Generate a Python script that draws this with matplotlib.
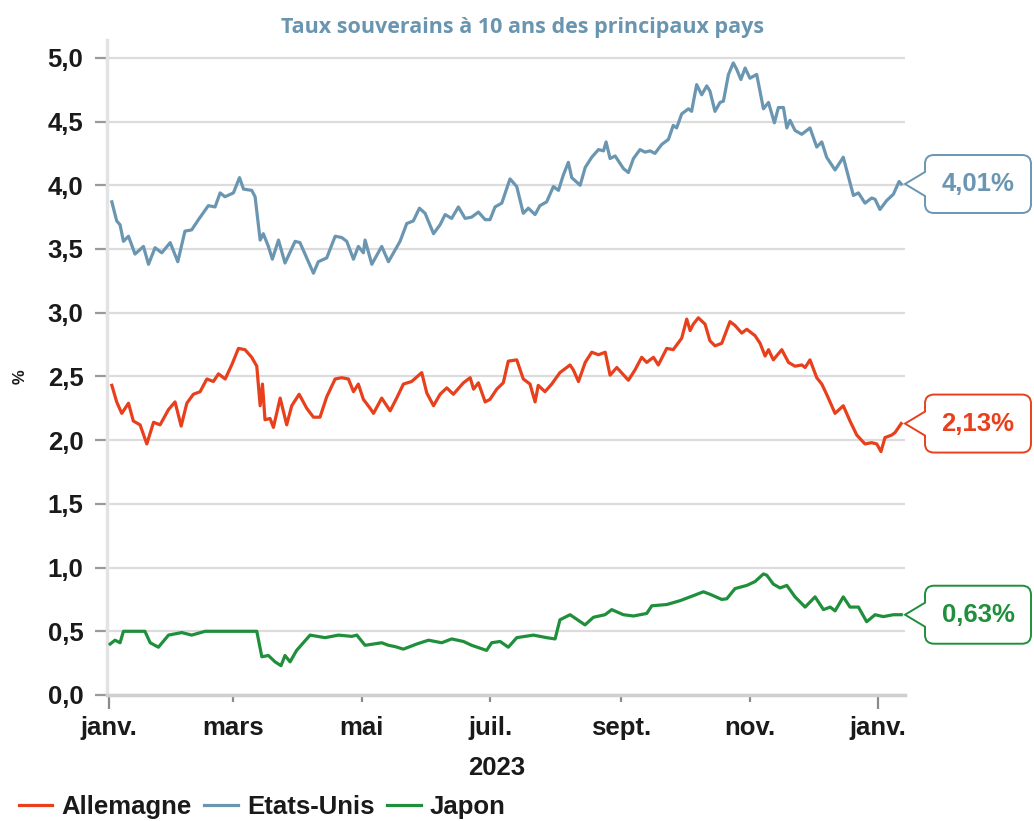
import numpy as np
import matplotlib
matplotlib.use('Agg')
import matplotlib.pyplot as plt
from matplotlib.path import Path
from matplotlib.patches import PathPatch
from matplotlib.ticker import FuncFormatter, FixedLocator

# days since 1 Jan 2023
us_days = [1.3, 3.6, 5.2, 6.8, 9.2, 12.3, 16.3, 18.7, 21.8, 25.0,
           29.0, 32.6, 36.0, 39.2, 42.4, 47.1, 50.3, 52.7, 55.0, 59.0,
           61.9, 63.8, 67.7, 69.3, 71.7, 73.2, 75.6, 77.5, 80.4, 83.5,
           88.3, 90.6, 97.0, 99.3, 103.3, 107.3, 110.4, 112.8, 116.0, 118.3,
           120.7, 121.5, 124.7, 129.4, 132.6, 138.1, 141.3, 144.4, 147.3, 150.0,
           154.0, 157.1, 159.5, 162.6, 165.8, 169.0, 172.1, 175.3, 178.5, 180.8,
           183.2, 186.4, 190.3, 193.5, 196.6, 199.0, 202.2, 204.5, 207.7, 210.9,
           213.3, 215.6, 218.0, 219.6, 223.6, 226.0, 229.1, 232.3, 234.7, 235.9,
           237.8, 240.2, 244.2, 246.5, 248.9, 252.0, 254.4, 256.8, 259.1, 262.3,
           265.5, 267.8, 269.4, 271.8, 275.0, 276.5, 278.9, 281.3, 283.7, 285.2,
           287.6, 290.0, 291.6, 294.0, 296.3, 297.9, 299.9, 301.9, 304.2, 307.4,
           310.6, 313.0, 315.8, 317.7, 320.1, 321.7, 323.2, 325.6, 328.8, 332.7,
           335.9, 338.3, 340.6, 344.6, 348.5, 353.3, 355.7, 358.8, 362.0, 363.6,
           365.9, 369.1, 372.3, 375.0, 376.0]
us_vals = [3.87, 3.72, 3.69, 3.56, 3.60, 3.46, 3.52, 3.38, 3.51, 3.47,
           3.55, 3.40, 3.64, 3.65, 3.73, 3.84, 3.83, 3.94, 3.91, 3.94,
           4.06, 3.97, 3.96, 3.91, 3.57, 3.62, 3.52, 3.42, 3.57, 3.39,
           3.56, 3.55, 3.31, 3.40, 3.43, 3.60, 3.59, 3.56, 3.42, 3.52,
           3.47, 3.57, 3.38, 3.52, 3.40, 3.56, 3.70, 3.72, 3.82, 3.78,
           3.62, 3.69, 3.77, 3.74, 3.83, 3.74, 3.75, 3.79, 3.73, 3.73,
           3.83, 3.86, 4.05, 3.99, 3.78, 3.82, 3.77, 3.84, 3.87, 3.99,
           3.96, 4.08, 4.18, 4.06, 4.00, 4.14, 4.22, 4.28, 4.27, 4.34,
           4.21, 4.23, 4.13, 4.10, 4.21, 4.28, 4.26, 4.27, 4.25, 4.32,
           4.36, 4.47, 4.45, 4.56, 4.60, 4.58, 4.79, 4.71, 4.78, 4.74,
           4.58, 4.65, 4.66, 4.87, 4.96, 4.91, 4.83, 4.92, 4.84, 4.87,
           4.60, 4.65, 4.49, 4.61, 4.61, 4.45, 4.51, 4.43, 4.40, 4.45,
           4.30, 4.34, 4.22, 4.12, 4.22, 3.92, 3.94, 3.86, 3.90, 3.89,
           3.81, 3.88, 3.93, 4.03, 4.01]

de_days = [1.3, 3.6, 6.0, 9.2, 11.5, 14.7, 17.9, 21.1, 24.2, 28.2,
           31.3, 34.2, 36.9, 40.0, 43.2, 46.4, 49.5, 51.9, 55.1, 58.2,
           61.4, 64.5, 67.7, 70.1, 71.7, 72.8, 74.0, 76.4, 78.0, 81.2,
           84.3, 86.7, 90.2, 93.8, 97.0, 100.1, 103.3, 107.3, 110.4, 113.6,
           116.0, 118.3, 120.7, 123.9, 125.5, 129.4, 133.4, 136.5, 139.7, 143.6,
           148.4, 150.8, 154.0, 157.1, 160.3, 163.4, 168.2, 171.4, 173.0, 175.3,
           178.5, 180.8, 184.0, 187.1, 189.5, 193.5, 196.6, 199.8, 202.2, 203.7,
           206.9, 210.1, 214.0, 218.8, 220.4, 222.8, 226.0, 229.1, 232.3, 235.5,
           237.8, 241.0, 246.5, 249.6, 252.8, 255.2, 258.4, 260.7, 264.7, 267.8,
           271.8, 274.2, 275.8, 277.3, 279.7, 282.9, 285.2, 287.6, 290.8, 294.7,
           297.1, 300.3, 302.7, 306.6, 309.0, 311.4, 313.0, 315.3, 319.3, 322.5,
           325.6, 328.8, 330.4, 332.7, 335.9, 338.3, 340.6, 344.6, 348.5, 351.7,
           354.9, 358.8, 362.0, 364.4, 366.4, 368.3, 371.5, 373.1, 376.0]
de_vals = [2.43, 2.30, 2.21, 2.29, 2.15, 2.12, 1.97, 2.14, 2.12, 2.24,
           2.30, 2.11, 2.29, 2.36, 2.38, 2.48, 2.46, 2.52, 2.48, 2.59,
           2.72, 2.71, 2.65, 2.58, 2.27, 2.44, 2.16, 2.17, 2.10, 2.33,
           2.12, 2.27, 2.36, 2.25, 2.18, 2.18, 2.34, 2.48, 2.49, 2.48,
           2.38, 2.44, 2.32, 2.25, 2.21, 2.33, 2.23, 2.33, 2.44, 2.46,
           2.53, 2.37, 2.27, 2.36, 2.41, 2.36, 2.45, 2.49, 2.40, 2.45,
           2.30, 2.32, 2.40, 2.45, 2.62, 2.63, 2.48, 2.44, 2.30, 2.43,
           2.38, 2.44, 2.53, 2.59, 2.55, 2.46, 2.61, 2.69, 2.67, 2.69,
           2.51, 2.57, 2.47, 2.55, 2.65, 2.61, 2.65, 2.59, 2.72, 2.71,
           2.80, 2.95, 2.86, 2.91, 2.96, 2.91, 2.78, 2.74, 2.76, 2.93,
           2.90, 2.84, 2.87, 2.82, 2.76, 2.66, 2.71, 2.63, 2.71, 2.61,
           2.58, 2.59, 2.57, 2.63, 2.49, 2.44, 2.36, 2.21, 2.27, 2.15,
           2.04, 1.97, 1.98, 1.97, 1.91, 2.02, 2.04, 2.06, 2.13]

jp_days = [0.5, 2.8, 5.2, 6.8, 17.0, 19.5, 23.4, 28.2, 34.5, 39.2,
           45.6, 70.1, 72.5, 75.6, 78.8, 81.6, 83.5, 85.9, 89.0, 95.4,
           102.5, 108.9, 115.2, 117.6, 121.5, 129.4, 132.6, 135.7, 139.7, 146.0,
           151.6, 157.9, 162.6, 168.2, 172.1, 179.2, 181.6, 185.6, 189.5, 193.5,
           201.4, 207.7, 211.7, 214.0, 218.8, 225.9, 229.9, 235.4, 238.6, 244.1,
           248.9, 255.2, 257.6, 264.7, 271.0, 277.4, 282.1, 285.3, 290.8, 293.2,
           297.1, 302.7, 306.6, 310.6, 312.2, 315.3, 318.5, 321.7, 325.6, 330.4,
           335.1, 339.1, 342.3, 344.6, 348.5, 351.7, 355.7, 359.6, 363.6, 367.5,
           372.3, 376.0]
jp_vals = [0.40, 0.43, 0.41, 0.50, 0.50, 0.41, 0.375, 0.47, 0.49, 0.47,
           0.50, 0.50, 0.30, 0.31, 0.26, 0.23, 0.31, 0.26, 0.35, 0.47,
           0.45, 0.47, 0.46, 0.47, 0.39, 0.41, 0.39, 0.38, 0.36, 0.40,
           0.43, 0.41, 0.44, 0.42, 0.39, 0.35, 0.41, 0.42, 0.375, 0.45,
           0.47, 0.45, 0.44, 0.59, 0.63, 0.55, 0.61, 0.63, 0.67, 0.63,
           0.62, 0.64, 0.70, 0.71, 0.74, 0.78, 0.81, 0.79, 0.75, 0.755,
           0.835, 0.86, 0.89, 0.95, 0.94, 0.87, 0.84, 0.86, 0.77, 0.69,
           0.77, 0.67, 0.69, 0.66, 0.77, 0.69, 0.69, 0.575, 0.63, 0.615,
           0.63, 0.63]

month_days = [0, 59, 120, 181, 243, 304, 365]
month_labels = ['janv.', 'mars', 'mai', 'juil.', 'sept.', 'nov.', 'janv.']
y_ticks = [0, 0.5, 1, 1.5, 2, 2.5, 3, 3.5, 4, 4.5, 5]

c_us = '#6a96b2'
c_de = '#e8401c'
c_jp = '#1f8f3b'
c_title = '#6a95b0'
c_txt = '#1a1a1a'
FONT = 'Liberation Sans'
FS = 18.5

W, H = 1034, 821
fig = plt.figure(figsize=(W / 100, H / 100), dpi=100)
# axes box placed in pixels: left 107, right 905, top 40, bottom 695
ax = fig.add_axes([107 / W, 1 - 695 / H, (905 - 107) / W, (695 - 40) / H])

l_de, = ax.plot(de_days, de_vals, color=c_de, lw=2.3, label='Allemagne', zorder=3)
l_us, = ax.plot(us_days, us_vals, color=c_us, lw=2.3, label='Etats-Unis', zorder=3)
l_jp, = ax.plot(jp_days, jp_vals, color=c_jp, lw=2.3, label='Japon', zorder=3)

ax.set_xlim(-1, 377.8)
ax.set_ylim(0, 5.14)

ax.yaxis.set_major_locator(FixedLocator(y_ticks))
ax.yaxis.set_major_formatter(FuncFormatter(lambda v, p: '{:.1f}'.format(v).replace('.', ',')))
ax.xaxis.set_major_locator(FixedLocator(month_days))
ax.set_xticklabels(month_labels)

ax.grid(axis='y', color='#dcdcdc', lw=1.6, zorder=0)
ax.set_axisbelow(True)
for s in ['top', 'right']:
    ax.spines[s].set_visible(False)
ax.spines['left'].set_color('#e3e3e3')
ax.spines['left'].set_linewidth(2.5)
ax.spines['bottom'].set_color('#cfcfcf')
ax.spines['bottom'].set_linewidth(2.5)

ax.tick_params(axis='y', length=9, width=1.6, color='#9a9a9a', pad=8)
ax.tick_params(axis='x', length=5, width=1.6, color='#8a8a8a', pad=10)
# year boundaries get longer ticks
xt = ax.xaxis.get_major_ticks()
for i in (0, len(xt) - 1):
    xt[i].tick1line.set_markersize(10)

for lab in ax.get_xticklabels() + ax.get_yticklabels():
    lab.set_fontfamily(FONT)
    lab.set_fontweight('bold')
    lab.set_fontsize(FS)
    lab.set_color(c_txt)

ax.text(month_days[3] + 3, -0.57, '2023', transform=ax.transData, ha='center', va='center',
        fontfamily=FONT, fontweight='bold', fontsize=FS, color=c_txt)

fig.text(20 / W, 1 - 377 / H, '%', rotation=90, ha='center', va='center',
         fontfamily=FONT, fontweight='bold', fontsize=12, color=c_txt)

fig.text(523 / W, 1 - 27 / H, 'Taux souverains à 10 ans des principaux pays',
         ha='center', va='center', fontfamily='Open Sans', fontweight='bold',
         fontsize=15.5, color=c_title)

fig.legend(handles=[l_de, l_us, l_jp], loc='lower left', bbox_to_anchor=(-0.004, -0.026),
           ncol=3, frameon=False, handlelength=1.3, handletextpad=0.35, columnspacing=0.5,
           prop={'family': FONT, 'weight': 'bold', 'size': FS}, labelcolor=c_txt)


def callout(value, color):
    # speech-bubble label pointing at the end of a series, drawn in pixels
    yc = ax.transData.transform((0, value))[1]
    tip, L, R = 905, 925, 1031
    T, B, r, n = yc + 29, yc - 29, 9, 12
    pts = [(L, T - r), (L, T), (L + r, T), (R - r, T), (R, T), (R, T - r),
           (R, B + r), (R, B), (R - r, B), (L + r, B), (L, B), (L, B + r),
           (L, yc - n), (tip, yc), (L, yc + n), (L, T - r)]
    codes = [Path.MOVETO, Path.CURVE3, Path.CURVE3, Path.LINETO, Path.CURVE3, Path.CURVE3,
             Path.LINETO, Path.CURVE3, Path.CURVE3, Path.LINETO, Path.CURVE3, Path.CURVE3,
             Path.LINETO, Path.LINETO, Path.LINETO, Path.CLOSEPOLY]
    pts = [(x / W, y / H) for x, y in pts]
    fig.add_artist(PathPatch(Path(pts, codes), transform=fig.transFigure,
                             facecolor='white', edgecolor=color, lw=1.4))
    label = '{:.2f}%'.format(value).replace('.', ',')
    fig.text((L + R) / 2 / W, yc / H, label, ha='center', va='center',
             fontfamily=FONT, fontweight='bold', fontsize=FS, color=color)


callout(us_vals[-1], c_us)
callout(de_vals[-1], c_de)
callout(jp_vals[-1], c_jp)

fig.savefig('out.png', dpi=100)
